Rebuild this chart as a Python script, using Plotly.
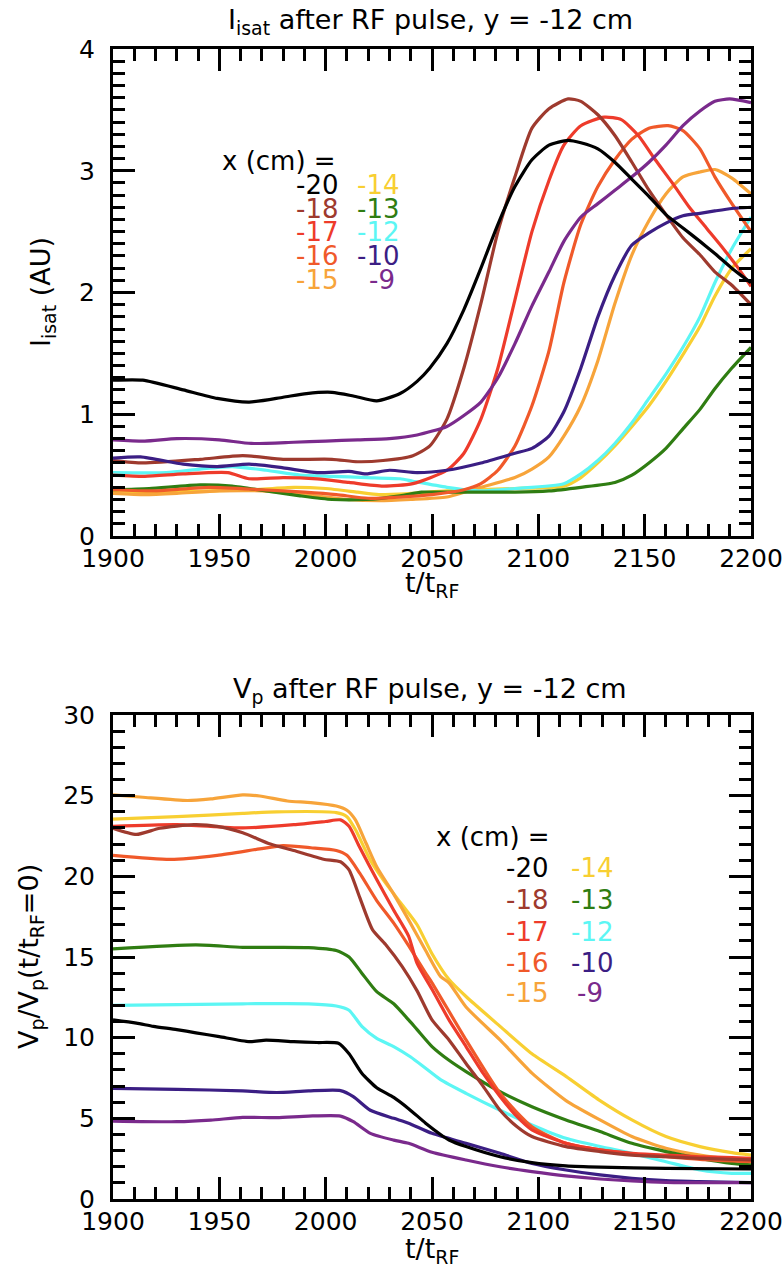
import plotly.graph_objects as go

# ---------------- data: ion saturation current (top panel) ----------------
isat_t_20 = [1900, 1914, 1933, 1949, 1964, 1980, 1991, 2003, 2013, 2024, 2035, 2043, 2049, 2057, 2065, 2073, 2081, 2089, 2097, 2105, 2114, 2120, 2128, 2136, 2144, 2152, 2160, 2168, 2176, 2183, 2191, 2200]
isat_20 = [1.28, 1.28, 1.20, 1.13, 1.10, 1.14, 1.17, 1.18, 1.15, 1.11, 1.17, 1.27, 1.38, 1.58, 1.86, 2.20, 2.56, 2.87, 3.09, 3.21, 3.25, 3.23, 3.18, 3.07, 2.93, 2.79, 2.64, 2.53, 2.42, 2.32, 2.20, 2.08]

isat_t_18 = [1900, 1914, 1941, 1961, 1980, 2003, 2015, 2027, 2041, 2049, 2057, 2065, 2073, 2081, 2089, 2097, 2105, 2114, 2120, 2128, 2136, 2144, 2152, 2160, 2168, 2176, 2183, 2191, 2200]
isat_18 = [0.62, 0.60, 0.63, 0.66, 0.63, 0.63, 0.61, 0.62, 0.66, 0.74, 0.96, 1.38, 1.91, 2.50, 2.95, 3.35, 3.51, 3.59, 3.57, 3.46, 3.29, 3.07, 2.84, 2.64, 2.45, 2.31, 2.17, 2.06, 1.90]

isat_t_17 = [1900, 1915, 1933, 1954, 1964, 1980, 1996, 2011, 2027, 2041, 2057, 2065, 2073, 2081, 2089, 2097, 2105, 2112, 2120, 2131, 2139, 2147, 2155, 2163, 2171, 2179, 2187, 2194, 2200]
isat_17 = [0.50, 0.49, 0.51, 0.52, 0.47, 0.48, 0.47, 0.44, 0.41, 0.43, 0.54, 0.68, 0.96, 1.38, 1.94, 2.50, 2.92, 3.21, 3.37, 3.44, 3.42, 3.29, 3.09, 2.90, 2.70, 2.53, 2.36, 2.20, 2.05]

isat_t_16 = [1900, 1920, 1945, 1970, 1990, 2005, 2020, 2035, 2050, 2065, 2073, 2081, 2089, 2097, 2105, 2112, 2120, 2128, 2136, 2144, 2152, 2161, 2168, 2176, 2183, 2191, 2200]
isat_16 = [0.38, 0.37, 0.40, 0.38, 0.36, 0.34, 0.31, 0.32, 0.34, 0.38, 0.43, 0.54, 0.74, 1.07, 1.52, 2.08, 2.56, 2.87, 3.09, 3.26, 3.35, 3.37, 3.33, 3.18, 2.95, 2.73, 2.50]

isat_t_15 = [1900, 1915, 1930, 1950, 1970, 1990, 2010, 2025, 2040, 2057, 2073, 2089, 2097, 2105, 2112, 2120, 2128, 2136, 2144, 2152, 2160, 2168, 2176, 2183, 2191, 2200]
isat_15 = [0.35, 0.34, 0.35, 0.37, 0.37, 0.34, 0.30, 0.29, 0.30, 0.32, 0.40, 0.48, 0.55, 0.65, 0.82, 1.07, 1.44, 1.91, 2.31, 2.59, 2.81, 2.95, 2.99, 3.01, 2.94, 2.81]

isat_t_14 = [1900, 1920, 1945, 1965, 1985, 2000, 2015, 2025, 2040, 2057, 2089, 2112, 2120, 2128, 2136, 2144, 2152, 2160, 2168, 2176, 2183, 2191, 2200]
isat_14 = [0.37, 0.36, 0.37, 0.38, 0.40, 0.39, 0.36, 0.34, 0.35, 0.37, 0.39, 0.41, 0.48, 0.60, 0.74, 0.90, 1.07, 1.27, 1.49, 1.72, 1.97, 2.20, 2.36]

isat_t_13 = [1900, 1917, 1941, 1956, 1972, 1988, 2003, 2019, 2035, 2045, 2057, 2073, 2089, 2105, 2120, 2136, 2144, 2152, 2160, 2168, 2176, 2183, 2191, 2200]
isat_13 = [0.38, 0.39, 0.42, 0.41, 0.37, 0.33, 0.30, 0.30, 0.33, 0.36, 0.36, 0.36, 0.36, 0.37, 0.40, 0.44, 0.50, 0.60, 0.72, 0.88, 1.04, 1.21, 1.38, 1.55]

isat_t_12 = [1900, 1925, 1941, 1956, 1972, 1988, 2003, 2019, 2035, 2041, 2057, 2073, 2089, 2112, 2120, 2128, 2136, 2144, 2152, 2160, 2168, 2176, 2183, 2191, 2200]
isat_12 = [0.52, 0.52, 0.55, 0.57, 0.54, 0.50, 0.49, 0.48, 0.47, 0.45, 0.40, 0.37, 0.39, 0.43, 0.51, 0.62, 0.76, 0.93, 1.13, 1.33, 1.55, 1.80, 2.08, 2.36, 2.62]

isat_t_10 = [1900, 1913, 1933, 1949, 1964, 1980, 1996, 2011, 2019, 2030, 2043, 2057, 2073, 2089, 2097, 2105, 2112, 2120, 2128, 2136, 2144, 2152, 2160, 2168, 2176, 2183, 2191, 2200]
isat_10 = [0.64, 0.65, 0.59, 0.57, 0.59, 0.56, 0.52, 0.53, 0.51, 0.54, 0.52, 0.54, 0.60, 0.68, 0.72, 0.82, 1.02, 1.38, 1.80, 2.14, 2.39, 2.49, 2.57, 2.63, 2.65, 2.67, 2.69, 2.70]

isat_t_9 = [1900, 1915, 1930, 1950, 1965, 1985, 2000, 2015, 2030, 2043, 2057, 2065, 2073, 2081, 2089, 2097, 2105, 2112, 2120, 2128, 2136, 2144, 2152, 2160, 2168, 2176, 2183, 2190, 2200]
isat_9 = [0.79, 0.78, 0.80, 0.79, 0.76, 0.77, 0.78, 0.79, 0.80, 0.83, 0.90, 0.99, 1.10, 1.30, 1.58, 1.89, 2.17, 2.42, 2.62, 2.73, 2.84, 2.95, 3.07, 3.21, 3.37, 3.49, 3.57, 3.59, 3.56]

# ---------------- data: normalised plasma potential (bottom panel) ----------------
vp_t_20 = [1900, 1911, 1919, 1930, 1939, 1950, 1964, 1972, 1985, 1996, 2006, 2011, 2017, 2024, 2032, 2039, 2047, 2054, 2058, 2066, 2082, 2097, 2113, 2129, 2160, 2200]
vp_20 = [11.1, 10.9, 10.7, 10.5, 10.3, 10.06, 9.75, 9.85, 9.75, 9.7, 9.65, 9.0, 7.8, 6.9, 6.3, 5.6, 4.7, 4.0, 3.66, 3.25, 2.62, 2.25, 2.05, 1.97, 1.9, 1.86]

vp_t_18 = [1900, 1911, 1922, 1938, 1949, 1961, 1974, 1985, 1999, 2007, 2011, 2016, 2022, 2028, 2036, 2043, 2050, 2058, 2066, 2074, 2082, 2090, 2097, 2113, 2129, 2144, 2160, 2176, 2200]
vp_18 = [22.98, 22.6, 22.98, 23.2, 23.1, 22.7, 22.0, 21.6, 21.06, 20.9, 20.4, 18.7, 16.7, 15.8, 14.4, 12.9, 11.1, 9.86, 8.4, 7.0, 5.5, 4.48, 3.87, 3.25, 2.94, 2.72, 2.62, 2.52, 2.42]

vp_t_17 = [1900, 1930, 1961, 1985, 2000, 2007, 2011, 2016, 2024, 2032, 2039, 2043, 2050, 2058, 2066, 2074, 2082, 2090, 2097, 2113, 2129, 2144, 2160, 2176, 2191, 2200]
vp_17 = [23.1, 23.2, 23.0, 23.2, 23.4, 23.5, 23.1, 21.8, 19.8, 17.9, 16.3, 14.6, 13.0, 11.1, 9.45, 7.8, 6.35, 5.1, 4.28, 3.45, 3.04, 2.83, 2.72, 2.62, 2.56, 2.52]

vp_t_16 = [1900, 1927, 1949, 1969, 1980, 1993, 2005, 2010, 2016, 2024, 2032, 2039, 2047, 2050, 2066, 2082, 2097, 2113, 2129, 2144, 2160, 2176, 2200]
vp_16 = [21.3, 21.05, 21.3, 21.7, 21.9, 21.77, 21.6, 21.3, 20.2, 18.5, 17.1, 15.7, 14.0, 13.4, 9.86, 6.55, 4.48, 3.45, 3.04, 2.8, 2.62, 2.46, 2.31]

vp_t_15 = [1900, 1914, 1935, 1946, 1961, 1969, 1982, 1993, 2005, 2010, 2014, 2019, 2024, 2032, 2039, 2047, 2054, 2058, 2066, 2082, 2097, 2113, 2129, 2144, 2160, 2176, 2191, 2200]
vp_15 = [25.05, 24.9, 24.7, 24.8, 25.05, 24.98, 24.67, 24.57, 24.36, 24.1, 23.5, 22.05, 20.6, 18.9, 17.3, 15.4, 13.8, 13.4, 11.9, 9.86, 7.8, 6.1, 4.9, 3.87, 3.14, 2.72, 2.46, 2.35]

vp_t_14 = [1900, 1930, 1961, 1977, 2005, 2010, 2014, 2021, 2027, 2035, 2043, 2050, 2058, 2066, 2082, 2097, 2113, 2129, 2144, 2160, 2176, 2191, 2200]
vp_14 = [23.54, 23.7, 23.9, 24.0, 23.95, 23.7, 22.9, 21.0, 19.8, 18.4, 17.0, 15.2, 13.6, 12.55, 10.7, 9.0, 7.6, 6.1, 4.9, 3.87, 3.25, 2.87, 2.72]

vp_t_13 = [1900, 1939, 1961, 1992, 2005, 2011, 2017, 2024, 2032, 2039, 2043, 2050, 2058, 2066, 2082, 2097, 2113, 2129, 2144, 2160, 2176, 2191, 2200]
vp_13 = [15.5, 15.75, 15.6, 15.58, 15.4, 15.0, 14.0, 12.85, 12.1, 11.1, 10.5, 9.45, 8.6, 7.9, 6.65, 5.72, 4.9, 4.18, 3.45, 2.94, 2.52, 2.21, 2.11]

vp_t_12 = [1900, 1961, 1992, 2005, 2011, 2017, 2024, 2032, 2040, 2047, 2054, 2066, 2082, 2097, 2113, 2129, 2144, 2160, 2176, 2191, 2200]
vp_12 = [12.0, 12.1, 12.1, 11.96, 11.7, 10.7, 9.96, 9.45, 8.8, 8.1, 7.4, 6.55, 5.5, 4.59, 3.76, 3.25, 2.83, 2.31, 1.8, 1.59, 1.59]

vp_t_10 = [1900, 1930, 1961, 1977, 1992, 2007, 2013, 2021, 2032, 2039, 2050, 2066, 2082, 2097, 2113, 2129, 2144, 2160, 2176, 2200]
vp_10 = [6.86, 6.8, 6.7, 6.6, 6.7, 6.72, 6.35, 5.5, 5.0, 4.7, 4.07, 3.45, 2.83, 2.21, 1.8, 1.49, 1.28, 1.14, 1.08, 1.01]

vp_t_9 = [1900, 1930, 1946, 1961, 1977, 1992, 2007, 2013, 2021, 2032, 2039, 2050, 2066, 2082, 2097, 2113, 2129, 2144, 2160, 2176, 2200]
vp_9 = [4.83, 4.79, 4.89, 5.06, 5.04, 5.14, 5.14, 4.79, 4.07, 3.65, 3.45, 2.9, 2.42, 2.0, 1.7, 1.43, 1.24, 1.12, 1.03, 1.01, 1.01]

# probe x positions (cm) and their line colours
x_labels = ["-20", "-18", "-17", "-16", "-15", "-14", "-13", "-12", "-10", "-9"]
colors = ["#000000", "#9E3A2E", "#EE3B2B", "#F0592A", "#F7A43A",
          "#F8CF32", "#2F7D12", "#5CF6F4", "#3B1E84", "#7A2A8C"]

isat_series = [(isat_t_20, isat_20), (isat_t_18, isat_18), (isat_t_17, isat_17),
               (isat_t_16, isat_16), (isat_t_15, isat_15), (isat_t_14, isat_14),
               (isat_t_13, isat_13), (isat_t_12, isat_12), (isat_t_10, isat_10),
               (isat_t_9, isat_9)]
vp_series = [(vp_t_20, vp_20), (vp_t_18, vp_18), (vp_t_17, vp_17), (vp_t_16, vp_16),
             (vp_t_15, vp_15), (vp_t_14, vp_14), (vp_t_13, vp_13), (vp_t_12, vp_12),
             (vp_t_10, vp_10), (vp_t_9, vp_9)]

# ---------------- figure ----------------
W, H = 784, 1275
FONT = "DejaVu Sans"


def px(x):
    return x / W


def py(y):
    return 1 - y / H


fig = go.Figure()

# draw order: light/late curves first so darker ones stay visible on top
order = [5, 4, 7, 6, 3, 2, 1, 8, 9, 0]
for i in order:
    t, v = isat_series[i]
    fig.add_trace(go.Scatter(x=t, y=v, mode="lines", xaxis="x", yaxis="y",
                             line=dict(color=colors[i], width=3.2, shape="spline", smoothing=0.6),
                             name=x_labels[i], showlegend=False))
for i in order:
    t, v = vp_series[i]
    fig.add_trace(go.Scatter(x=t, y=v, mode="lines", xaxis="x2", yaxis="y2",
                             line=dict(color=colors[i], width=3.2, shape="spline", smoothing=0.6),
                             name=x_labels[i], showlegend=False))

axis_style = dict(showline=True, linecolor="black", linewidth=3, mirror="ticks",
                  ticks="inside", ticklen=22, tickwidth=3, tickcolor="black",
                  showgrid=False, zeroline=False, automargin=False,
                  ticklabeloverflow="allow",
                  tickfont=dict(family=FONT, size=25, color="black"))
minor_style = dict(ticks="inside", ticklen=12, tickwidth=3, tickcolor="black")

x_dom = [px(113), px(751)]
top_dom = [py(536), py(49)]
bot_dom = [py(1199), py(715)]

fig.update_layout(
    width=W, height=H,
    margin=dict(l=0, r=0, t=0, b=0, autoexpand=False),
    paper_bgcolor="white", plot_bgcolor="white",
    showlegend=False,
    xaxis=dict(axis_style, domain=x_dom, range=[1900, 2200], tick0=1900, dtick=50,
               anchor="y", ticklabelstandoff=-2, minor=dict(minor_style, dtick=10)),
    yaxis=dict(axis_style, domain=top_dom, range=[0, 4], tick0=0, dtick=1, anchor="x",
               ticklabelstandoff=10, minor=dict(minor_style, dtick=0.1)),
    xaxis2=dict(axis_style, domain=x_dom, range=[1900, 2200], tick0=1900, dtick=50,
                anchor="y2", ticklabelstandoff=-2, minor=dict(minor_style, dtick=10)),
    yaxis2=dict(axis_style, domain=bot_dom, range=[0, 30], tick0=0, dtick=5, anchor="x2",
                ticklabelstandoff=10, minor=dict(minor_style, dtick=1)),
)

annotations = []


def add_text(text, x, y, size=27, color="black", xanchor="center", yanchor="middle", angle=0):
    annotations.append(dict(text=text, x=px(x), y=py(y), xref="paper", yref="paper",
                            xanchor=xanchor, yanchor=yanchor, showarrow=False,
                            textangle=angle,
                            font=dict(family=FONT, size=size, color=color)))


# panel titles and axis titles
add_text("I<sub>isat</sub> after RF pulse, y = -12 cm", 430, 22)
add_text("t/t<sub>RF</sub>", 432, 585)
add_text("I<sub>isat</sub> (AU)", 42, 292, angle=-90)

add_text("V<sub>p</sub> after RF pulse, y = -12 cm", 430, 690)
add_text("t/t<sub>RF</sub>", 432, 1250)
add_text("V<sub>p</sub>/V<sub>p</sub>(t/t<sub>RF</sub>=0)", 30, 957, angle=-90)

# colour key: two columns of probe positions
top_rows = [185, 209, 232, 256, 280]
bot_rows = [868, 900, 932, 963, 993]
add_text("x (cm) =", 220, 161, size=26, xanchor="left")
add_text("x (cm) =", 434, 837, size=26, xanchor="left")
for k in range(5):
    add_text(x_labels[k], 340, top_rows[k], size=26, color=colors[k], xanchor="right")
    add_text(x_labels[k], 550, bot_rows[k], size=26, color=colors[k], xanchor="right")
for k in range(5, 10):
    r = k - 5
    top_right = 397 if x_labels[k] == "-9" else 401
    bot_right = 605 if x_labels[k] == "-9" else 615
    add_text(x_labels[k], top_right, top_rows[r], size=26, color=colors[k], xanchor="right")
    add_text(x_labels[k], bot_right, bot_rows[r], size=26, color=colors[k], xanchor="right")

fig.update_layout(annotations=annotations)

fig.write_html("out.html")
